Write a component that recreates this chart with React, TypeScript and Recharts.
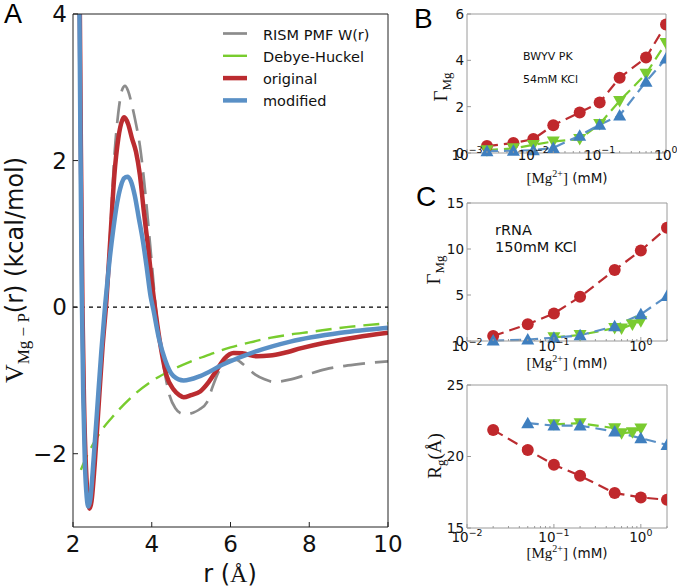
import React from "react"
import { LineChart, Line, XAxis, YAxis, ReferenceLine } from "recharts"

// ---- panel A: Mg-P potentials vs r (Å)
const rismR = [2.14, 2.17, 2.2, 2.24, 2.28, 2.33, 2.38, 2.42, 2.47, 2.55, 2.65, 2.75, 2.85, 2.95, 3.05, 3.15, 3.25, 3.32, 3.4, 3.5, 3.6, 3.7, 3.8, 3.9, 4.0, 4.1, 4.2, 4.3, 4.45, 4.6, 4.75, 4.9, 5.05, 5.2, 5.4, 5.55, 5.7, 5.85, 6.0, 6.15, 6.3, 6.45, 6.63, 6.85, 7.1, 7.5, 8.0, 8.4, 9.2, 10]
const rismV = [6, 4.2, 2.0, -0.2, -1.5, -2.3, -2.65, -2.72, -2.6, -2.1, -1.35, -0.55, 0.15, 1.05, 2.05, 2.65, 2.97, 3.02, 2.95, 2.75, 2.5, 2.2, 1.75, 1.2, 0.6, 0.0, -0.45, -0.8, -1.2, -1.38, -1.45, -1.46, -1.44, -1.4, -1.3, -1.08, -0.88, -0.76, -0.72, -0.72, -0.77, -0.84, -0.92, -0.98, -1.02, -0.99, -0.91, -0.85, -0.78, -0.74]

const dhR = [2.2, 2.35, 2.5, 2.7, 3.0, 3.5, 4.0, 4.5, 5.0, 5.5, 6.0, 6.5, 7.0, 7.5, 8.0, 9.0, 10]
const dhV = [-2.22, -2.03, -1.88, -1.7, -1.5, -1.22, -1.01, -0.86, -0.74, -0.64, -0.55, -0.48, -0.42, -0.375, -0.34, -0.27, -0.22]

const origR = [2.14, 2.17, 2.2, 2.24, 2.28, 2.33, 2.38, 2.42, 2.47, 2.55, 2.65, 2.75, 2.85, 2.95, 3.05, 3.15, 3.25, 3.3, 3.4, 3.5, 3.6, 3.7, 3.8, 3.9, 4.0, 4.08, 4.2, 4.38, 4.55, 4.7, 4.81, 5.0, 5.23, 5.45, 5.66, 5.85, 6.08, 6.3, 6.67, 7.0, 7.35, 7.8, 8.37, 9.2, 10]
const origV = [6, 4.3, 2.2, 0, -1.3, -2.2, -2.62, -2.75, -2.65, -2.15, -1.35, -0.55, 0.1, 0.95, 1.8, 2.3, 2.55, 2.59, 2.5, 2.3, 2.12, 1.8, 1.3, 0.85, 0.35, 0, -0.45, -0.94, -1.12, -1.2, -1.23, -1.2, -1.15, -1.02, -0.85, -0.7, -0.625, -0.63, -0.67, -0.66, -0.625, -0.56, -0.49, -0.41, -0.35]

const modR = [2.13, 2.16, 2.19, 2.22, 2.26, 2.3, 2.35, 2.39, 2.44, 2.52, 2.62, 2.72, 2.82, 2.92, 3.02, 3.12, 3.22, 3.3, 3.38, 3.47, 3.57, 3.67, 3.77, 3.87, 3.97, 4.04, 4.18, 4.34, 4.55, 4.81, 5.23, 5.82, 6.67, 7.52, 8.8, 10]
const modV = [6, 4.3, 2.2, 0.3, -1.2, -2.1, -2.6, -2.72, -2.62, -2.1, -1.35, -0.6, 0.05, 0.6, 1.05, 1.42, 1.66, 1.76, 1.78, 1.72, 1.52, 1.22, 0.92, 0.55, 0.15, -0.03, -0.42, -0.72, -0.94, -1.0, -0.94, -0.78, -0.6, -0.47, -0.35, -0.28]

// ---- panel B: BWYV PK, 54mM KCl
const bConc = [0.002, 0.005, 0.01, 0.02, 0.05, 0.1, 0.2, 0.5, 1.0]
const bRed = [0.3, 0.43, 0.6, 1.2, 1.75, 2.18, 3.25, 4.12, 5.55]
const bGreen = [0.12, 0.2, 0.35, 0.5, 0.6, 1.25, 2.25, 3.42, 4.75]
const bBlue = [0.08, 0.1, 0.12, 0.22, 0.75, 1.22, 1.62, 3.08, 4.08]

// ---- panel C: rRNA, 150mM KCl
const cConc = [0.02, 0.05, 0.1, 0.2, 0.5, 1.0, 2.0]
const cBlueConc = [0.05, 0.1, 0.2, 0.5, 1.0, 2.0]
const cGreenConc = [0.1, 0.2, 0.5, 0.6, 0.8, 1.0]
const gammaRed = [0.55, 1.82, 2.99, 4.8, 7.72, 9.83, 12.3]
const gammaBlue = [0.05, 0.15, 0.35, 0.62, 1.6, 2.9, 4.88]
const gammaGreen = [0.4, 0.65, 1.4, 1.35, 1.8, 2.15]
const rgRed = [21.86, 20.46, 19.42, 18.65, 17.44, 17.14, 16.97]
const rgBlue = [22.33, 22.16, 22.16, 21.74, 21.28, 20.81]
const rgGreen = [22.25, 22.33, 21.98, 21.63, 21.7, 21.95]

const GRAY = "#8c8c8c"
const GREEN = "#78cc2e"
const RED = "#bb2c30"
const BLUE = "#5a90c6"
const M_RED = "#c0282c"
const M_GREEN = "#7acb30"
const M_BLUE = "#3f7fbf"

const SANS = "DejaVu Sans"
const SERIF = "Liberation Serif"

const zip = (xs: number[], ys: number[]) => xs.map((x, i) => ({ x, y: ys[i] }))

const logTicks = (lo: number, hi: number) => {
  const out: number[] = []
  for (let d = lo; d < hi * 1.0001; d *= 10) {
    for (let k = 1; k <= 9; k++) {
      const v = +(k * d).toPrecision(3)
      if (v <= hi * 1.0001) out.push(v)
    }
  }
  return out
}

type Side = "bottom" | "top" | "left" | "right"

function makeTick(side: Side, opt: { majors: number[]; len: number; minor?: number; color: string; font?: number; off?: number; log?: boolean }) {
  return (p: any) => {
    const { x, y, payload, index } = p
    const v = payload.value
    const major = opt.majors.some((m) => Math.abs(m - v) <= 1e-6 * Math.abs(m) + 1e-9)
    const len = major ? opt.len : opt.minor ?? 0
    let line = null
    if (side === "bottom") line = <line x1={x} y1={y} x2={x} y2={y - len} stroke={opt.color} />
    if (side === "top") line = <line x1={x} y1={y} x2={x} y2={y + len} stroke={opt.color} />
    if (side === "left") line = <line x1={x} y1={y} x2={x + len} y2={y} stroke={opt.color} />
    if (side === "right") line = <line x1={x} y1={y} x2={x - len} y2={y} stroke={opt.color} />
    let label = null
    if (major && opt.font) {
      if (side === "bottom") {
        if (opt.log) {
          const e = Math.round(Math.log10(v))
          label = (
            <text x={x} y={y + (opt.off ?? 0)} textAnchor="middle" fontSize={opt.font} fontFamily={SANS} fill="#111">
              10<tspan dy={-opt.font * 0.45} fontSize={opt.font * 0.7}>{e < 0 ? "\u2212" + -e : String(e)}</tspan>
            </text>
          )
        } else {
          label = (
            <text x={x} y={y + (opt.off ?? 0)} textAnchor="middle" fontSize={opt.font} fontFamily={SANS} fill="#111">
              {v}
            </text>
          )
        }
      }
      if (side === "left") {
        label = (
          <text x={x - (opt.off ?? 0)} y={y + opt.font * 0.36} textAnchor="end" fontSize={opt.font} fontFamily={SANS} fill="#111">
            {v < 0 ? "\u2212" + -v : v}
          </text>
        )
      }
    }
    return (
      <g key={`${side}-${index}`}>
        {line}
        {label}
      </g>
    )
  }
}

function dot(kind: "circle" | "up" | "down", color: string) {
  return (p: any) => {
    const { cx, cy, index } = p
    if (cx == null || cy == null) return <g key={index} />
    if (kind === "circle") return <circle key={index} cx={cx} cy={cy} r={6} fill={color} />
    const w = 6.5
    const pts =
      kind === "up"
        ? `${cx},${cy - 6.5} ${cx - w},${cy + 5} ${cx + w},${cy + 5}`
        : `${cx},${cy + 6.5} ${cx - w},${cy - 5} ${cx + w},${cy - 5}`
    return <polygon key={index} points={pts} fill={color} />
  }
}

// axis sizes used for every panel; margins are derived from the plot box
const YL = 30
const YR = 2
const XT = 2
const XB = 25

type Box = { l: number; r: number; t: number; b: number }

function frame(div: Box, plot: Box) {
  return {
    left: plot.l - div.l - YL,
    right: div.r - plot.r - YR,
    top: plot.t - div.t - XT,
    bottom: div.b - plot.b - XB,
  }
}

function divStyle(div: Box): React.CSSProperties {
  return { position: "absolute", left: div.l, top: div.t, width: div.r - div.l, height: div.b - div.t }
}

function PanelA() {
  const div = { l: 0, r: 420, t: 0, b: 587 }
  const plot = { l: 73, r: 388, t: 14, b: 527 }
  const xt = [2, 4, 6, 8, 10]
  const yt = [-2, 0, 2, 4]
  const c = "#222"
  return (
    <div style={divStyle(div)}>
      <LineChart width={div.r - div.l} height={div.b - div.t} margin={frame(div, plot)}>
        <XAxis dataKey="x" type="number" domain={[2, 10]} ticks={xt} interval={0} height={XB} tickSize={0} tickMargin={0}
          stroke={c} tick={makeTick("bottom", { majors: xt, len: 5, color: c, font: 23, off: 25 })} allowDataOverflow />
        <XAxis xAxisId="top" orientation="top" type="number" domain={[2, 10]} ticks={xt} interval={0} height={XT}
          tickSize={0} tickMargin={0} stroke={c} tick={makeTick("top", { majors: xt, len: 5, color: c })} />
        <YAxis type="number" domain={[-3, 4]} ticks={yt} interval={0} width={YL} tickSize={0} tickMargin={0} stroke={c}
          tick={makeTick("left", { majors: yt, len: 5, color: c, font: 23, off: 6 })} allowDataOverflow />
        <YAxis yAxisId="r" orientation="right" type="number" domain={[-3, 4]} ticks={yt} interval={0} width={YR}
          tickSize={0} tickMargin={0} stroke={c} tick={makeTick("right", { majors: yt, len: 5, color: c })} />
        <ReferenceLine y={0} stroke="#000" strokeDasharray="4 4" strokeWidth={1.3} />
        <Line data={zip(rismR, rismV)} dataKey="y" type="monotone" stroke={GRAY} strokeWidth={2.7} strokeDasharray="22 10" dot={false} isAnimationActive={false} />
        <Line data={zip(dhR, dhV)} dataKey="y" type="monotone" stroke={GREEN} strokeWidth={2.4} strokeDasharray="16 8" dot={false} isAnimationActive={false} />
        <Line data={zip(origR, origV)} dataKey="y" type="monotone" stroke={RED} strokeWidth={4.5} dot={false} isAnimationActive={false} />
        <Line data={zip(modR, modV)} dataKey="y" type="monotone" stroke={BLUE} strokeWidth={4.5} dot={false} isAnimationActive={false} />
      </LineChart>
    </div>
  )
}

function LogPanel(props: {
  div: Box
  plot: Box
  xDomain: [number, number]
  yDomain: [number, number]
  yTicks: number[]
  labelOff: number
  series: { data: { x: number; y: number }[]; line: string; marker: string; kind: "circle" | "up" | "down" }[]
}) {
  const { div, plot, xDomain, yDomain, yTicks, labelOff, series } = props
  const xt = logTicks(xDomain[0], xDomain[1])
  const decades = xt.filter((v) => Math.abs(Math.log10(v) - Math.round(Math.log10(v))) < 1e-6)
  const c = "#9a9a9a"
  return (
    <div style={divStyle(div)}>
      <LineChart width={div.r - div.l} height={div.b - div.t} margin={frame(div, plot)}>
        <XAxis dataKey="x" type="number" scale="log" domain={xDomain} ticks={xt} interval={0} height={XB} tickSize={0}
          tickMargin={0} stroke={c} allowDataOverflow
          tick={makeTick("bottom", { majors: decades, len: 4, minor: 2, color: c, font: 13.5, off: labelOff, log: true })} />
        <XAxis xAxisId="top" orientation="top" type="number" scale="log" domain={xDomain} ticks={xt} interval={0}
          height={XT} tickSize={0} tickMargin={0} stroke={c} allowDataOverflow
          tick={makeTick("top", { majors: decades, len: 4, minor: 2, color: c })} />
        <YAxis type="number" domain={yDomain} ticks={yTicks} interval={0} width={YL} tickSize={0} tickMargin={0} stroke={c}
          tick={makeTick("left", { majors: yTicks, len: 4, color: c, font: 13.5, off: 3 })} />
        <YAxis yAxisId="r" orientation="right" type="number" domain={yDomain} ticks={yTicks} interval={0} width={YR}
          tickSize={0} tickMargin={0} stroke={c} tick={makeTick("right", { majors: yTicks, len: 4, color: c })} />
        {series.map((s, i) => (
          <Line key={i} data={s.data} dataKey="y" type="linear" stroke={s.line} strokeWidth={2.2} strokeDasharray="11 6"
            dot={dot(s.kind, s.marker)} activeDot={false} isAnimationActive={false} />
        ))}
      </LineChart>
    </div>
  )
}

function MgLabel({ x, y }: { x: number; y: number }) {
  return (
    <text x={x} y={y} textAnchor="middle" fill="#111">
      <tspan fontFamily={SERIF} fontSize={15}>[Mg</tspan>
      <tspan fontFamily={SERIF} fontSize={10} dy={-6}>2+</tspan>
      <tspan fontFamily={SERIF} fontSize={15} dy={6}>]</tspan>
      <tspan fontFamily={SANS} fontSize={13.5}> (mM)</tspan>
    </text>
  )
}

function GammaLabel({ x, y }: { x: number; y: number }) {
  return (
    <text transform={`translate(${x},${y}) rotate(-90)`} textAnchor="middle" fill="#111" fontFamily={SERIF}>
      <tspan fontSize={19}>Γ</tspan>
      <tspan fontSize={13} dy={4}>Mg</tspan>
    </text>
  )
}

function Overlay() {
  const legend = [
    { name: "RISM PMF W(r)", color: GRAY, w: 2.7 },
    { name: "Debye-Huckel", color: GREEN, w: 2.4 },
    { name: "original", color: RED, w: 4.5 },
    { name: "modified", color: BLUE, w: 4.5 },
  ]
  return (
    <svg width={677} height={587} style={{ position: "absolute", left: 0, top: 0, pointerEvents: "none" }}>
      <text x={4} y={23} fontFamily="Liberation Sans" fontSize={27} fill="#000">A</text>
      <text x={414} y={28} fontFamily="Liberation Sans" fontSize={28} fill="#000">B</text>
      <text x={416} y={206} fontFamily="Liberation Sans" fontSize={28} fill="#000">C</text>

      {legend.map((l, i) => (
        <g key={l.name}>
          <line x1={223} x2={247} y1={33.5 + i * 22.3} y2={33.5 + i * 22.3} stroke={l.color} strokeWidth={l.w} />
          <text x={263} y={39.5 + i * 22.3} fontFamily={SANS} fontSize={14.5} fill="#111">{l.name}</text>
        </g>
      ))}

      <text transform="translate(23,270) rotate(-90)" textAnchor="middle" fill="#111">
        <tspan fontFamily={SERIF} fontSize={26}>V</tspan>
        <tspan fontFamily={SERIF} fontSize={17} dy={6}>Mg − P</tspan>
        <tspan fontFamily={SANS} fontSize={24} dy={-6}>(r) (kcal/mol)</tspan>
      </text>
      <text x={230} y={582} textAnchor="middle" fill="#111" fontSize={24}>
        <tspan fontFamily={SANS}>r (</tspan>
        <tspan fontFamily={SERIF}>Å</tspan>
        <tspan fontFamily={SANS}>)</tspan>
      </text>

      <text x={523} y={60} fontFamily={SANS} fontSize={11} fill="#111">BWYV PK</text>
      <text x={523} y={83} fontFamily={SANS} fontSize={11} fill="#111">54mM KCl</text>
      <GammaLabel x={447} y={87} />
      <MgLabel x={567} y={183} />

      <text x={495} y={235} fontFamily={SANS} fontSize={14.5} fill="#111">rRNA</text>
      <text x={495} y={252} fontFamily={SANS} fontSize={14.5} fill="#111">150mM KCl</text>
      <GammaLabel x={440} y={270} />
      <MgLabel x={567} y={368} />

      <text transform="translate(441,456) rotate(-90)" textAnchor="middle" fill="#111" fontFamily={SERIF}>
        <tspan fontSize={19}>R</tspan>
        <tspan fontSize={13} dy={4}>g</tspan>
        <tspan fontSize={19} dy={-4}>(Å)</tspan>
      </text>
      <MgLabel x={567} y={558} />
    </svg>
  )
}

export default function App() {
  return (
    <div style={{ position: "absolute", left: 0, top: 0, width: 677, height: 587, background: "#fff", fontFamily: SANS }}>
      <PanelA />
      <LogPanel
        div={{ l: 420, r: 677, t: 0, b: 200 }}
        plot={{ l: 467, r: 666, t: 14, b: 153 }}
        xDomain={[0.001, 1]}
        yDomain={[0, 6]}
        yTicks={[0, 2, 4, 6]}
        labelOff={6.5}
        series={[
          { data: zip(bConc, bRed), line: RED, marker: M_RED, kind: "circle" },
          { data: zip(bConc, bGreen), line: GREEN, marker: M_GREEN, kind: "down" },
          { data: zip(bConc, bBlue), line: BLUE, marker: M_BLUE, kind: "up" },
        ]}
      />
      <LogPanel
        div={{ l: 420, r: 677, t: 180, b: 380 }}
        plot={{ l: 467, r: 667, t: 203, b: 341 }}
        xDomain={[0.01, 2]}
        yDomain={[0, 15]}
        yTicks={[0, 5, 10, 15]}
        labelOff={10}
        series={[
          { data: zip(cConc, gammaRed), line: RED, marker: M_RED, kind: "circle" },
          { data: zip(cGreenConc, gammaGreen), line: GREEN, marker: M_GREEN, kind: "down" },
          { data: zip(cConc, gammaBlue), line: BLUE, marker: M_BLUE, kind: "up" },
        ]}
      />
      <LogPanel
        div={{ l: 420, r: 677, t: 370, b: 587 }}
        plot={{ l: 467, r: 667, t: 385, b: 528 }}
        xDomain={[0.01, 2]}
        yDomain={[15, 25]}
        yTicks={[15, 20, 25]}
        labelOff={14}
        series={[
          { data: zip(cConc, rgRed), line: RED, marker: M_RED, kind: "circle" },
          { data: zip(cGreenConc, rgGreen), line: GREEN, marker: M_GREEN, kind: "down" },
          { data: zip(cBlueConc, rgBlue), line: BLUE, marker: M_BLUE, kind: "up" },
        ]}
      />
      <Overlay />
    </div>
  )
}
